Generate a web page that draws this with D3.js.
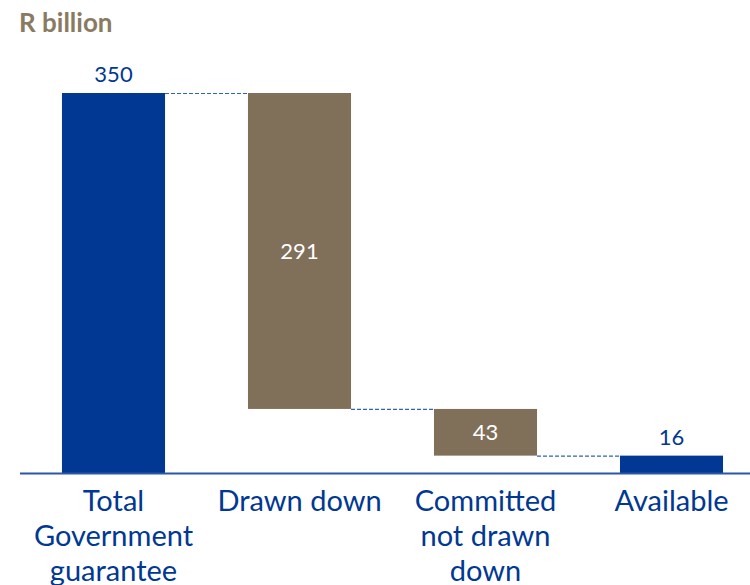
<!DOCTYPE html>
<html>
<head>
<meta charset="utf-8">
<script src="https://cdn.jsdelivr.net/npm/d3@7"></script>
<style>
  body { margin: 0; background: #fff; }
  svg text { font-family: Lato, "Open Sans", sans-serif; }
</style>
</head>
<body>
<div id="chart"></div>
<script>
// waterfall data (R billion)
var categories = ["Total Government guarantee", "Drawn down", "Committed not drawn down", "Available"];
var labelLines = [["Total", "Government", "guarantee"], ["Drawn down"], ["Committed", "not drawn", "down"], ["Available"]];
var values = [350, 291, 43, 16];
var barStart = [0, 350, 59, 0];   // where each bar begins
var barEnd = [350, 59, 16, 16];   // where each bar ends
var kinds = ["total", "step", "step", "total"];

var width = 750, height = 585;
var blue = "#003893", brown = "#80705a";

var svg = d3.select("#chart").append("svg")
    .attr("width", width)
    .attr("height", height);

var x = d3.scaleBand()
    .domain(categories)
    .range([20.5, 764.5])
    .paddingInner(0.446)
    .paddingOuter(0.223);

var y = d3.scaleLinear()
    .domain([0, 350])
    .range([473, 93]);

// title
svg.append("text")
    .attr("x", 19)
    .attr("y", 32)
    .attr("fill", "#8a7a62")
    .attr("font-size", "26px")
    .attr("font-weight", "bold")
    .text("R billion");

// bars
svg.selectAll("rect.bar")
    .data(categories)
    .enter()
    .append("rect")
    .attr("class", "bar")
    .attr("x", function(d) { return x(d); })
    .attr("width", x.bandwidth())
    .attr("y", function(d, i) { return y(Math.max(barStart[i], barEnd[i])); })
    .attr("height", function(d, i) { return Math.abs(y(barStart[i]) - y(barEnd[i])); })
    .attr("fill", function(d, i) { return kinds[i] === "total" ? blue : brown; });

// dashed connectors
svg.selectAll("line.conn")
    .data(categories.slice(0, 3))
    .enter()
    .append("line")
    .attr("class", "conn")
    .attr("x1", function(d) { return x(d) + x.bandwidth(); })
    .attr("x2", function(d, i) { return x(categories[i + 1]); })
    .attr("y1", function(d, i) { return y(barEnd[i]) + 0.5; })
    .attr("y2", function(d, i) { return y(barEnd[i]) + 0.5; })
    .attr("stroke", "#3060b8")
    .attr("stroke-width", 1.2)
    .attr("stroke-dasharray", "4,2");

// x axis line
svg.append("line")
    .attr("x1", 20)
    .attr("x2", width)
    .attr("y1", y(0) + 0.5)
    .attr("y2", y(0) + 0.5)
    .attr("stroke", "#2b57a8")
    .attr("stroke-width", 2);

// value labels
svg.selectAll("text.val")
    .data(categories)
    .enter()
    .append("text")
    .attr("class", "val")
    .attr("x", function(d) { return x(d) + x.bandwidth() / 2; })
    .attr("y", function(d, i) {
        if (kinds[i] === "total") return y(barEnd[i]) - 11;
        return (y(barStart[i]) + y(barEnd[i])) / 2 + 8;
    })
    .attr("text-anchor", "middle")
    .attr("font-size", "22px")
    .attr("fill", function(d, i) { return kinds[i] === "total" ? blue : "#fff"; })
    .text(function(d, i) { return values[i]; });

// category labels
var cat = svg.selectAll("text.cat")
    .data(categories)
    .enter()
    .append("text")
    .attr("class", "cat")
    .attr("text-anchor", "middle")
    .attr("font-size", "29px")
    .attr("fill", blue);

cat.selectAll("tspan")
    .data(function(d, i) { return labelLines[i].map(function(t) { return { t: t, c: d }; }); })
    .enter()
    .append("tspan")
    .attr("x", function(d) { return x(d.c) + x.bandwidth() / 2; })
    .attr("y", function(d, j) { return 511 + j * 35; })
    .text(function(d) { return d.t; });
</script>
</body>
</html>
